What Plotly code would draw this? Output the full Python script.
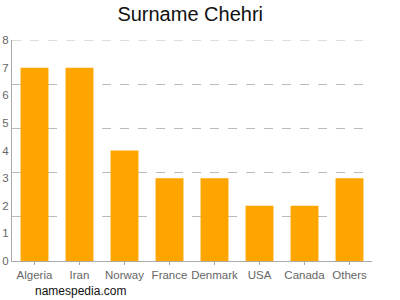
import plotly.graph_objects as go

categories = ["Algeria", "Iran", "Norway", "France", "Denmark", "USA", "Canada", "Others"]
values = [7, 7, 4, 3, 3, 2, 2, 3]
y_ticks = [0, 1, 2, 3, 4, 5, 6, 7, 8]
grid_vals = [1.6, 3.2, 4.8, 6.4]
top_grid = 8

fig = go.Figure()
fig.add_trace(go.Bar(x=categories, y=values, marker_color="#FFA500", width=0.62,
                     marker_line_width=0, hoverinfo="skip"))
fig.add_trace(go.Scatter(x=categories, y=values, yaxis="y2", mode="none",
                         showlegend=False, hoverinfo="skip"))

fig.update_layout(
    width=400, height=300,
    margin=dict(l=12, r=28, t=40, b=39),
    paper_bgcolor="white", plot_bgcolor="white",
    showlegend=False,
    font=dict(family="Liberation Sans, Arial, sans-serif"),
    title=dict(text="Surname Chehri", xref="paper", x=0.495, xanchor="center",
               yref="container", y=0.953, yanchor="middle",
               font=dict(size=20, color="#111")),
    xaxis=dict(showgrid=False, showline=True, linecolor="#aaa", linewidth=1,
               ticks="outside", ticklen=3, tickcolor="#aaa", automargin=False,
               tickfont=dict(size=11.5, color="#666"), range=[-0.5, 7.5]),
    yaxis=dict(range=[0, 8], tickvals=y_ticks, showgrid=False, showline=True,
               linecolor="#aaa", linewidth=1, ticks="",
               tickfont=dict(size=11.5, color="#666"), zeroline=False, automargin=False,
               layer="below traces"),
    yaxis2=dict(range=[0, 8], overlaying="y", tickvals=grid_vals, showgrid=True,
                gridcolor="#bbb", griddash="dash", gridwidth=1, showticklabels=False,
                zeroline=False, showline=False, automargin=False, layer="below traces"),
    annotations=[dict(text="namespedia.com", xref="paper", yref="paper",
                      x=0.058, y=-0.136, xanchor="left", yanchor="middle",
                      showarrow=False, font=dict(size=12, color="#111"))],
)
fig.add_shape(type="line", xref="paper", yref="y", x0=0, x1=1, y0=top_grid, y1=top_grid,
              line=dict(color="#bbb", width=1, dash="dash"), layer="below")
fig.write_html("out.html")
